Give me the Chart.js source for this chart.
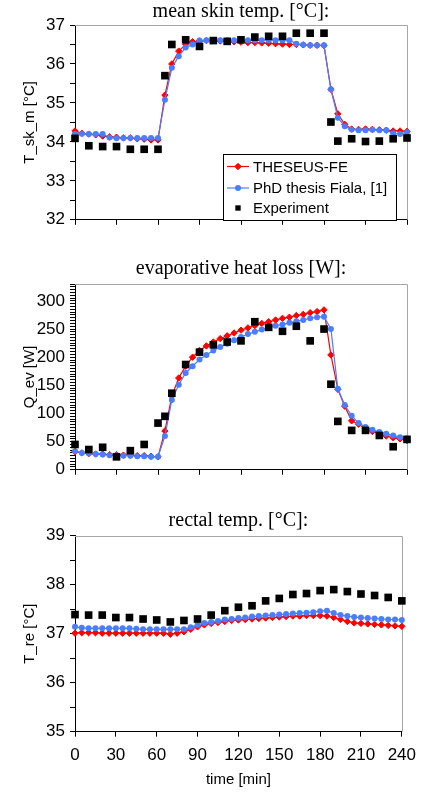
<!DOCTYPE html>
<html>
<head>
<meta charset="utf-8">
<title>Skin temperature, evaporative heat loss and rectal temperature</title>
<script src="https://cdn.jsdelivr.net/npm/chart.js"></script>
<style>
  html, body { margin: 0; padding: 0; background: #ffffff; }
  #wrap { position: relative; width: 424px; height: 795px; overflow: hidden; }
  #wrap canvas { position: absolute; left: 0; display: block; }
</style>
</head>
<body>
<div id="wrap">
  <canvas id="skin-chart" width="424" height="235" style="top:0;"></canvas>
  <canvas id="evap-chart" width="424" height="235" style="top:250px;"></canvas>
  <canvas id="rectal-chart" width="424" height="295" style="top:500px;"></canvas>
</div>
<script>
/* ============================================================
   Three stacked panels: simulation (THESEUS-FE, Fiala) vs experiment
   ============================================================ */

// ---- Time axes [min] ----
var TIME_MODEL = [0, 5, 10, 15, 20, 25, 30, 35, 40, 45, 50, 55, 60, 65, 70, 75, 80, 85, 90, 95,
  100, 105, 110, 115, 120, 125, 130, 135, 140, 145, 150, 155, 160, 165, 170, 175, 180, 185,
  190, 195, 200, 205, 210, 215, 220, 225, 230, 235, 240];
var TIME_EXP = [0, 10, 20, 30, 40, 50, 60, 65, 70, 80, 90, 100, 110, 120, 130, 140, 150, 160,
  170, 180, 185, 190, 200, 210, 220, 230, 240];
var TIME_EXP_RE = [0, 10, 20, 30, 40, 50, 60, 70, 80, 90, 100, 110, 120, 130, 140, 150, 160,
  170, 180, 190, 200, 210, 220, 230, 240];

// ---- Mean skin temperature [°C] ----
var SKIN_THESEUS = [34.28, 34.22, 34.20, 34.18, 34.15, 34.13, 34.12, 34.10, 34.10, 34.08, 34.07,
  34.05, 34.05, 35.20, 36.00, 36.33, 36.50, 36.57, 36.59, 36.60, 36.60, 36.59, 36.58, 36.57,
  36.56, 36.55, 36.55, 36.54, 36.53, 36.52, 36.51, 36.50, 36.50, 36.49, 36.48, 36.48, 36.47,
  35.35, 34.72, 34.45, 34.33, 34.32, 34.33, 34.32, 34.31, 34.30, 34.28, 34.28, 34.27];
var SKIN_FIALA = [34.20, 34.21, 34.20, 34.20, 34.20, 34.11, 34.09, 34.10, 34.10, 34.10, 34.10,
  34.10, 34.10, 35.08, 35.90, 36.20, 36.42, 36.50, 36.60, 36.61, 36.61, 36.61, 36.61, 36.61,
  36.61, 36.61, 36.61, 36.61, 36.61, 36.61, 36.61, 36.61, 36.52, 36.49, 36.48, 36.48, 36.48,
  35.35, 34.62, 34.40, 34.32, 34.30, 34.30, 34.31, 34.30, 34.30, 34.22, 34.20, 34.25];
var SKIN_EXP = [34.09, 33.90, 33.88, 33.88, 33.81, 33.81, 33.81, 35.70, 36.50, 36.62, 36.45,
  36.60, 36.58, 36.62, 36.69, 36.71, 36.71, 36.79, 36.79, 36.79, 34.51, 34.02, 34.08, 34.01,
  34.02, 34.08, 34.10];

// ---- Evaporative heat loss [W] ----
var EVAP_THESEUS = [32, 30, 29, 28, 28, 27, 27, 26, 26, 25, 25, 24, 23, 69, 131, 163, 184, 200,
  212, 220, 227, 233, 238, 243, 248, 252, 256, 260, 263, 266, 269, 271, 274, 276, 279, 281, 284,
  204, 143, 113, 87, 81, 73, 68, 64, 60, 57, 55, 52];
var EVAP_FIALA = [33, 30, 29, 28, 27, 26, 26, 25, 25, 24, 24, 23, 23, 60, 124, 151, 172, 184,
  196, 204, 212, 218, 224, 230, 236, 241, 245, 249, 253, 256, 258, 261, 264, 266, 269, 271, 272,
  250, 144, 115, 96, 83, 76, 71, 67, 64, 61, 58, 56];
var EVAP_EXP = [45, 36, 40, 23, 34, 45, 83, 95, 136, 187, 209, 222, 227, 229, 263, 253, 246, 255,
  229, 250, 152, 86, 70, 70, 61, 41, 54];

// ---- Rectal temperature [°C] ----
var RECTAL_THESEUS = [37.01, 37.02, 37.02, 37.02, 37.01, 37.01, 37.01, 37.01, 37.01, 37.01,
  37.01, 37.01, 37.01, 37.01, 36.99, 37.01, 37.04, 37.09, 37.14, 37.18, 37.21, 37.23, 37.25,
  37.27, 37.28, 37.29, 37.30, 37.31, 37.32, 37.33, 37.34, 37.35, 37.36, 37.36, 37.37, 37.37,
  37.37, 37.36, 37.33, 37.29, 37.25, 37.22, 37.21, 37.20, 37.19, 37.18, 37.17, 37.16, 37.15];
var RECTAL_FIALA = [37.14, 37.12, 37.11, 37.11, 37.11, 37.11, 37.11, 37.11, 37.11, 37.10,
  37.09, 37.09, 37.09, 37.09, 37.09, 37.09, 37.09, 37.13, 37.18, 37.22, 37.24, 37.26, 37.29,
  37.30, 37.32, 37.33, 37.35, 37.36, 37.37, 37.38, 37.39, 37.40, 37.41, 37.42, 37.43, 37.44,
  37.46, 37.47, 37.42, 37.38, 37.36, 37.34, 37.33, 37.32, 37.31, 37.30, 37.29, 37.29, 37.28];
var RECTAL_EXP = [37.39, 37.38, 37.38, 37.33, 37.33, 37.30, 37.28, 37.24, 37.27, 37.30, 37.38,
  37.47, 37.54, 37.57, 37.67, 37.72, 37.80, 37.82, 37.88, 37.90, 37.86, 37.81, 37.78, 37.74,
  37.67];

// ---- Labels ----
var SERIES_NAMES = ['THESEUS-FE', 'PhD thesis Fiala, [1]', 'Experiment'];
var X_TITLE = 'time [min]';

(function () {
  'use strict';

  var SANS = 'Arial, "Liberation Sans", Helvetica, sans-serif';
  var SERIF = '"Times New Roman", "Liberation Serif", Times, serif';
  var RED = '#FF0000';
  var BLUE = '#4A7DFF';
  var FRAME_COLOR = '#A6A6A6';

  function pairs(xs, ys) {
    return ys.map(function (y, i) { return { x: xs[i], y: y }; });
  }

  function buildDatasets(tModel, theseus, fiala, tExp, exp) {
    return [
      {
        label: SERIES_NAMES[0],
        data: pairs(tModel, theseus),
        borderColor: RED,
        backgroundColor: RED,
        borderWidth: 1.2,
        pointStyle: 'rectRot',
        pointRadius: 3.2,
        pointBorderWidth: 1,
        tension: 0,
        clip: false,
        order: 2
      },
      {
        label: SERIES_NAMES[1],
        data: pairs(tModel, fiala),
        borderColor: BLUE,
        backgroundColor: BLUE,
        borderWidth: 1.2,
        pointStyle: 'circle',
        pointRadius: 3,
        pointBorderWidth: 0,
        tension: 0,
        clip: false,
        order: 1
      },
      {
        label: SERIES_NAMES[2],
        data: pairs(tExp, exp),
        showLine: false,
        borderColor: '#000000',
        backgroundColor: '#000000',
        pointStyle: 'rect',
        pointRadius: 5.4,
        pointBorderWidth: 0,
        clip: false,
        order: 0
      }
    ];
  }

  // ---- Grey top/right frame of the plot area ----
  var framePlugin = {
    id: 'frame',
    beforeDatasetsDraw: function (chart) {
      var a = chart.chartArea;
      var ctx = chart.ctx;
      ctx.save();
      ctx.strokeStyle = FRAME_COLOR;
      ctx.lineWidth = 1;
      ctx.beginPath();
      ctx.moveTo(a.left, Math.round(a.top) + 0.5);
      ctx.lineTo(Math.round(a.right) + 0.5, Math.round(a.top) + 0.5);
      ctx.lineTo(Math.round(a.right) + 0.5, a.bottom);
      ctx.stroke();
      ctx.restore();
    }
  };

  // ---- Boxed legend inside the first panel ----
  var boxLegendPlugin = {
    id: 'boxLegend',
    afterDatasetsDraw: function (chart) {
      var ctx = chart.ctx;
      var box = { x: 223.5, y: 154.5, w: 173, h: 66 };
      var rows = [166.5, 188, 208];
      ctx.save();
      ctx.fillStyle = '#ffffff';
      ctx.fillRect(box.x, box.y, box.w, box.h);
      ctx.strokeStyle = '#000000';
      ctx.lineWidth = 1;
      ctx.strokeRect(box.x, box.y, box.w, box.h);

      ctx.font = '15px ' + SANS;
      ctx.textBaseline = 'middle';
      chart.data.datasets.forEach(function (ds, i) {
        var y = rows[i];
        var mx = 238;
        if (ds.showLine !== false) {
          ctx.strokeStyle = ds.borderColor;
          ctx.lineWidth = ds.borderWidth;
          ctx.beginPath();
          ctx.moveTo(227, y);
          ctx.lineTo(249, y);
          ctx.stroke();
        }
        ctx.fillStyle = ds.backgroundColor;
        ctx.strokeStyle = ds.borderColor;
        ctx.lineWidth = ds.pointBorderWidth || 0;
        var r = ds.showLine === false ? 3.8 : ds.pointRadius;
        if (Chart.helpers && Chart.helpers.drawPoint) {
          Chart.helpers.drawPoint(ctx, { pointStyle: ds.pointStyle, radius: r, rotation: 0, borderWidth: ds.pointBorderWidth || 0 }, mx, y);
        } else {
          ctx.fillRect(mx - r, y - r, 2 * r, 2 * r);
        }
        ctx.fillStyle = '#000000';
        ctx.fillText(ds.label, 253, y + 1);
      });
      ctx.restore();
    }
  };

  // ---- Shared options ----
  function buildOptions(o) {
    return {
      responsive: false,
      animation: false,
      events: [],
      layout: { padding: { left: 0, right: 17, top: 0, bottom: 0 } },
      plugins: {
        legend: { display: false },
        tooltip: { enabled: false },
        title: {
          display: true,
          text: o.title,
          fullSize: false,
          color: '#000000',
          font: { family: SERIF, size: 20, weight: 'normal' },
          padding: { top: o.titleTop, bottom: o.titleBottom }
        }
      },
      scales: {
        x: {
          type: 'linear',
          min: 0,
          max: 240,
          border: { display: true, color: '#000000', width: 1 },
          grid: { display: true, drawOnChartArea: false, drawTicks: true, tickLength: 5, color: '#000000', tickColor: '#000000' },
          ticks: {
            display: o.xLabels,
            stepSize: 30,
            autoSkip: false,
            maxRotation: 0,
            padding: 8,
            color: '#000000',
            font: { family: SANS, size: 17 }
          },
          title: {
            display: o.xLabels,
            text: X_TITLE,
            color: '#000000',
            font: { family: SANS, size: 15 },
            padding: { top: 0, bottom: 6 }
          },
          afterFit: function (scale) { scale.height = o.xHeight; }
        },
        y: {
          type: 'linear',
          min: o.yMin,
          max: o.yMax,
          border: { display: true, color: '#000000', width: 1 },
          grid: { display: true, drawOnChartArea: false, drawTicks: true, tickLength: 5, color: '#000000', tickColor: '#000000' },
          ticks: {
            stepSize: o.yStep,
            autoSkip: false,
            padding: 5,
            color: '#000000',
            font: { family: SANS, size: 17 },
            callback: function (v) {
              return Math.abs(v / o.yLabelEvery - Math.round(v / o.yLabelEvery)) < 1e-6 ? String(v) : '';
            }
          },
          title: {
            display: true,
            text: o.yTitle,
            color: '#000000',
            font: { family: SANS, size: 15 },
            padding: { top: 21, bottom: 0 }
          },
          afterFit: function (scale) { scale.width = 75; }
        }
      }
    };
  }

  function renderPanel(canvasId, datasets, o, extraPlugins) {
    var canvas = document.getElementById(canvasId);
    if (!canvas) return null;
    return new Chart(canvas.getContext('2d'), {
      type: 'line',
      data: { datasets: datasets },
      options: buildOptions(o),
      plugins: [framePlugin].concat(extraPlugins || [])
    });
  }

  // ---- Panel 1: mean skin temperature ----
  renderPanel('skin-chart',
    buildDatasets(TIME_MODEL, SKIN_THESEUS, SKIN_FIALA, TIME_EXP, SKIN_EXP),
    {
      title: 'mean skin temp. [°C]:', titleTop: 0, titleBottom: 1,
      yMin: 32, yMax: 37, yStep: 0.5, yLabelEvery: 1, yTitle: 'T_sk_m [°C]',
      xLabels: false, xHeight: 6
    },
    [boxLegendPlugin]);

  // ---- Panel 2: evaporative heat loss ----
  renderPanel('evap-chart',
    buildDatasets(TIME_MODEL, EVAP_THESEUS, EVAP_FIALA, TIME_EXP, EVAP_EXP),
    {
      title: 'evaporative heat loss [W]:', titleTop: 7, titleBottom: 3,
      yMin: 0, yMax: 330, yStep: 5, yLabelEvery: 50, yTitle: 'Q_ev [W]',
      xLabels: false, xHeight: 6.3
    });

  // ---- Panel 3: rectal temperature ----
  renderPanel('rectal-chart',
    buildDatasets(TIME_MODEL, RECTAL_THESEUS, RECTAL_FIALA, TIME_EXP_RE, RECTAL_EXP),
    {
      title: 'rectal temp. [°C]:', titleTop: 9, titleBottom: 2.7,
      yMin: 35, yMax: 39, yStep: 0.5, yLabelEvery: 1, yTitle: 'T_re [°C]',
      xLabels: true, xHeight: 63.3
    });
})();
</script>
</body>
</html>
